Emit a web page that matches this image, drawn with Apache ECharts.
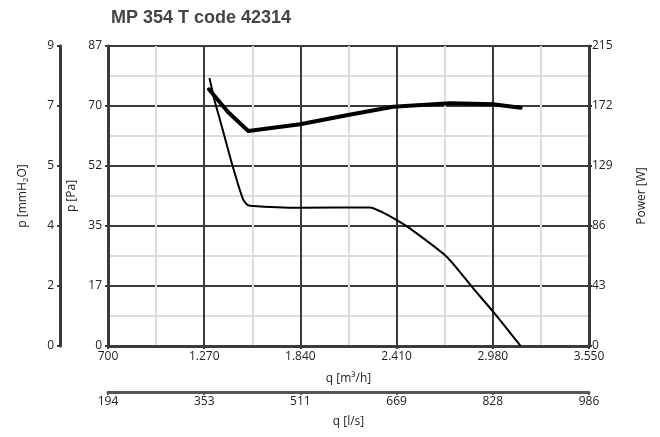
<!DOCTYPE html>
<html>
<head>
<meta charset="utf-8">
<script src="https://cdn.jsdelivr.net/npm/echarts@6/dist/echarts.min.js"></script>
<style>html,body{margin:0;padding:0;background:#fff}#c{width:660px;height:437px}</style>
</head>
<body>
<div id="c"></div>
<script>
// Data
const qTicksM3h = [700, 1270, 1840, 2410, 2980, 3550];
const paTicks = [0, 17, 35, 52, 70, 87];
const powerTicks = [0, 43, 86, 129, 172, 215];

// Power curve (thick) q [m3/h] vs Power [W]
const qPower = [1298, 1411, 1531, 1838, 2122, 2389, 2726, 2981, 3145];
const powerW = [184.0, 167.7, 154.1, 158.9, 165.6, 171.5, 173.9, 173.2, 170.8];

// Pressure curve (thin) q [m3/h] vs p [Pa]
const qPressure = [1301, 1330, 1364, 1400, 1433, 1470, 1500, 1520, 1541, 1838, 2252, 2322, 2411, 2489, 2707, 2864, 2983, 3145];
const pressurePa = [77.7, 71.5, 65.5, 59.0, 53.1, 47.0, 42.6, 41.2, 40.7, 40.1, 40.2, 38.9, 36.5, 34.1, 25.9, 16.7, 9.9, 0];

const DARK = '#3b3b3b', LIGHT = '#dcdcdc', TXT = '#222';
const FONT = 'Open Sans';

function dotFmt(v) {
  const s = String(Math.round(v));
  return s.length > 3 ? s.slice(0, -3) + '.' + s.slice(-3) : s;
}

const chart = echarts.init(document.getElementById('c'), null, {renderer: 'canvas'});
const xMin = qTicksM3h[0], xMax = qTicksM3h[qTicksM3h.length - 1], xInt = qTicksM3h[1] - qTicksM3h[0];
const paMax = paTicks[paTicks.length - 1], paInt = paMax / (paTicks.length - 1);
const pwMax = powerTicks[powerTicks.length - 1], pwInt = powerTicks[1];

const labelStyle = {color: TXT, fontFamily: FONT, fontSize: 12};
const nameStyle = {color: TXT, fontFamily: FONT, fontSize: 12};

chart.setOption({
  animation: false,
  title: {
    text: 'MP 354 T code 42314',
    left: 106, top: 4,
    textStyle: {fontFamily: 'Liberation Sans', fontWeight: 'bold', fontSize: 18, color: '#444'}
  },
  grid: {left: 108, top: 46, width: 481, height: 300, containLabel: false},
  xAxis: [
    {
      type: 'value', position: 'bottom', min: xMin, max: xMax, interval: xInt,
      name: 'q [m³/h]', nameLocation: 'middle', nameGap: 27, nameTextStyle: nameStyle,
      axisLine: {show: true, onZero: false, lineStyle: {color: DARK, width: 3}},
      axisTick: {show: true, length: 3, lineStyle: {color: DARK, width: 2}},
      axisLabel: Object.assign({formatter: dotFmt, margin: 5}, labelStyle),
      splitLine: {show: true, lineStyle: {color: DARK, width: 2}},
      minorTick: {show: false, splitNumber: 2},
      minorSplitLine: {show: true, lineStyle: {color: LIGHT, width: 2}}
    },
    {
      type: 'value', position: 'bottom', offset: 46, min: xMin, max: xMax, interval: xInt,
      name: 'q [l/s]', nameLocation: 'middle', nameGap: 24, nameTextStyle: nameStyle,
      axisLine: {show: true, onZero: false, lineStyle: {color: '#555', width: 3}},
      axisTick: {show: true, length: 3, lineStyle: {color: '#555', width: 2}},
      axisLabel: Object.assign({formatter: v => String(Math.round(v / 3.6)), margin: 4}, labelStyle),
      splitLine: {show: false}
    }
  ],
  yAxis: [
    {
      type: 'value', position: 'left', offset: 48, min: 0, max: paMax, interval: paInt,
      name: 'p [mmH{sub|2}O]', nameLocation: 'middle', nameGap: 30,
      nameTextStyle: Object.assign({rich: {sub: {fontSize: 8, verticalAlign: 'bottom', padding: [6, 0, 0, 0], fontFamily: FONT, color: TXT}}}, nameStyle),
      axisLine: {show: true, onZero: false, lineStyle: {color: DARK, width: 3}},
      axisTick: {show: true, length: 3, lineStyle: {color: DARK, width: 2}},
      axisLabel: Object.assign({formatter: v => String(Math.round(v / 9.80665)), margin: 6}, labelStyle),
      splitLine: {show: false}
    },
    {
      type: 'value', position: 'left', min: 0, max: paMax, interval: paInt,
      name: 'p [Pa]', nameLocation: 'middle', nameGap: 28, nameTextStyle: nameStyle,
      axisLine: {show: true, onZero: false, lineStyle: {color: DARK, width: 3}},
      axisTick: {show: true, length: 3, lineStyle: {color: DARK, width: 2}},
      axisLabel: Object.assign({formatter: v => String(Math.round(v)), margin: 6}, labelStyle),
      splitLine: {show: true, lineStyle: {color: DARK, width: 2}},
      minorTick: {show: false, splitNumber: 2},
      minorSplitLine: {show: true, lineStyle: {color: LIGHT, width: 2}}
    },
    {
      type: 'value', position: 'right', min: 0, max: pwMax, interval: pwInt,
      name: 'Power [W]', nameLocation: 'middle', nameGap: 47, nameTextStyle: nameStyle,
      axisLine: {show: true, onZero: false, lineStyle: {color: DARK, width: 3}},
      axisTick: {show: true, length: 3, lineStyle: {color: DARK, width: 2}},
      axisLabel: Object.assign({formatter: v => String(Math.round(v)), margin: 3}, labelStyle),
      splitLine: {show: false}
    }
  ],
  series: [
    {
      type: 'line', xAxisIndex: 0, yAxisIndex: 2, showSymbol: false, symbol: 'none',
      lineStyle: {color: '#000', width: 4, join: 'round', cap: 'round'},
      data: qPower.map((q, i) => [q, powerW[i]]), z: 5
    },
    {
      type: 'line', xAxisIndex: 0, yAxisIndex: 1, showSymbol: false, symbol: 'none', smooth: 0.2,
      lineStyle: {color: '#000', width: 2},
      data: qPressure.map((q, i) => [q, pressurePa[i]]), z: 5
    }
  ]
});
</script>
</body>
</html>
